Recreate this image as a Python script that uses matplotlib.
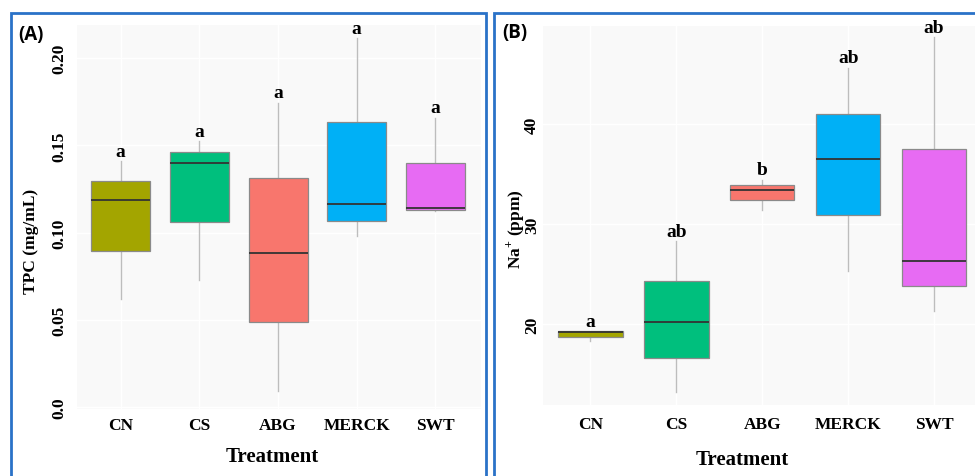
import matplotlib
matplotlib.use("Agg")
import matplotlib.pyplot as plt
from matplotlib.patches import Rectangle

# ---- data -------------------------------------------------------------
treatments = ["CN", "CS", "ABG", "MERCK", "SWT"]
box_colors = ["#A3A500", "#00BF7D", "#F8766D", "#00B0F6", "#E76BF3"]

# TPC (mg/mL) five-number summaries
tpc_low = [0.0619, 0.0728, 0.0090, 0.0982, 0.1124]
tpc_q1 = [0.0896, 0.1063, 0.0486, 0.1068, 0.1128]
tpc_med = [0.1185, 0.1397, 0.0883, 0.1162, 0.1139]
tpc_q3 = [0.1294, 0.1460, 0.1313, 0.1634, 0.1399]
tpc_high = [0.1409, 0.1523, 0.1745, 0.2114, 0.1657]
tpc_letters = ["a", "a", "a", "a", "a"]
tpc_ticks = [0.0, 0.05, 0.10, 0.15, 0.20]
tpc_ticklabels = ["0.0", "0.05", "0.10", "0.15", "0.20"]

# Na+ (ppm) five-number summaries
na_low = [18.3, 13.2, 31.46, 25.36, 21.33]
na_q1 = [18.7, 16.66, 32.43, 30.93, 23.8]
na_med = [19.2, 20.26, 33.46, 36.53, 26.33]
na_q3 = [19.3, 24.33, 33.93, 41.06, 37.5]
na_high = [19.3, 28.3, 34.46, 45.63, 48.7]
na_letters = ["a", "ab", "b", "ab", "ab"]
na_ticks = [20, 30, 40]
na_ticklabels = ["20", "30", "40"]

# ---- style ------------------------------------------------------------
plt.rcParams["font.family"] = ["Liberation Serif", "DejaVu Serif"]
plt.rcParams["font.weight"] = "bold"
plt.rcParams["mathtext.fontset"] = "custom"
plt.rcParams["mathtext.rm"] = "Liberation Serif:bold"
plt.rcParams["mathtext.bf"] = "Liberation Serif:bold"

SERIF = "Liberation Serif"
FRAME = "#2A72C8"

fig = plt.figure(figsize=(9.75, 4.77), dpi=100)


def draw_panel(ax, low, q1, med, q3, high, letters, ticks, ticklabels,
               ylim, xlim, ypad, xpad):
    stats = []
    for i, name in enumerate(treatments):
        stats.append(dict(label=name, whislo=low[i], q1=q1[i], med=med[i],
                          q3=q3[i], whishi=high[i], fliers=[]))
    pos = list(range(1, len(treatments) + 1))
    res = ax.bxp(stats, positions=pos, widths=0.75, patch_artist=True,
                 showcaps=False, showfliers=False,
                 boxprops=dict(edgecolor="#8A8A8A", linewidth=0.9),
                 medianprops=dict(color="#333333", linewidth=1.3),
                 whiskerprops=dict(color="#BDBDBD", linewidth=1.0))
    for patch, c in zip(res["boxes"], box_colors):
        patch.set_facecolor(c)
    for w in res["whiskers"]:
        w.set_zorder(1)

    for x, top, lab in zip(pos, high, letters):
        ax.annotate(lab, (x, top), xytext=(0, 4), textcoords="offset points",
                    ha="center", va="baseline", fontsize=14,
                    fontweight="bold", family=SERIF)

    ax.set_facecolor("#F9F9F9")
    ax.set_xlim(*xlim)
    ax.set_ylim(*ylim)
    ax.set_yticks(ticks)
    ax.set_yticklabels(ticklabels, rotation=90, va="center",
                       fontsize=12.5, fontweight="bold", family=SERIF)
    ax.set_xticks(pos)
    ax.set_xticklabels(treatments, fontsize=12.5, fontweight="bold",
                       family=SERIF)
    ax.tick_params(axis="both", length=0)
    ax.tick_params(axis="y", pad=ypad)
    ax.tick_params(axis="x", pad=xpad)
    for s in ax.spines.values():
        s.set_visible(False)
    ax.grid(True, color="white", linewidth=1.0)
    ax.set_axisbelow(True)


axA = fig.add_axes([77 / 975, 67 / 477, 404 / 975, 384 / 477])
draw_panel(axA, tpc_low, tpc_q1, tpc_med, tpc_q3, tpc_high, tpc_letters,
           tpc_ticks, tpc_ticklabels, ylim=(-0.0011, 0.219),
           xlim=(0.445, 5.58), ypad=7, xpad=6)

axB = fig.add_axes([543 / 975, 71 / 477, 442.6 / 975, 379 / 477])
draw_panel(axB, na_low, na_q1, na_med, na_q3, na_high, na_letters,
           na_ticks, na_ticklabels, ylim=(11.93, 49.83),
           xlim=(0.448, 5.6), ypad=2, xpad=8)

# axis titles
fig.text(31 / 975, 1 - 241 / 477, "TPC (mg/mL)", rotation=90, ha="center",
         va="center", fontsize=12.5, fontweight="bold", family=SERIF)
fig.text(515 / 975, 1 - 229 / 477, r"Na$^{+}$ (ppm)", rotation=90,
         ha="center", va="center", fontsize=12.5, fontweight="bold",
         family=SERIF)
fig.text(272 / 975, 1 - 457 / 477, "Treatment", ha="center", va="center",
         fontsize=15, fontweight="bold", family=SERIF)
fig.text(742 / 975, 1 - 460 / 477, "Treatment", ha="center", va="center",
         fontsize=15, fontweight="bold", family=SERIF)

# panel tags
fig.text(18 / 975, 1 - 35 / 477, "(A)", ha="left", va="center",
         fontsize=13.5, fontweight="bold", family="Open Sans")
fig.text(502 / 975, 1 - 33 / 477, "(B)", ha="left", va="center",
         fontsize=13.5, fontweight="bold", family="Open Sans")

# panel frames
top = 1 - 14 / 477
fig.add_artist(Rectangle((11 / 975, -0.1), 475 / 975, top + 0.1,
                         transform=fig.transFigure, fill=False,
                         edgecolor=FRAME, linewidth=2.0))
fig.add_artist(Rectangle((494 / 975, -0.1), 0.6, top + 0.1,
                         transform=fig.transFigure, fill=False,
                         edgecolor=FRAME, linewidth=2.0))

fig.savefig("out.png", dpi=100, facecolor="white")
